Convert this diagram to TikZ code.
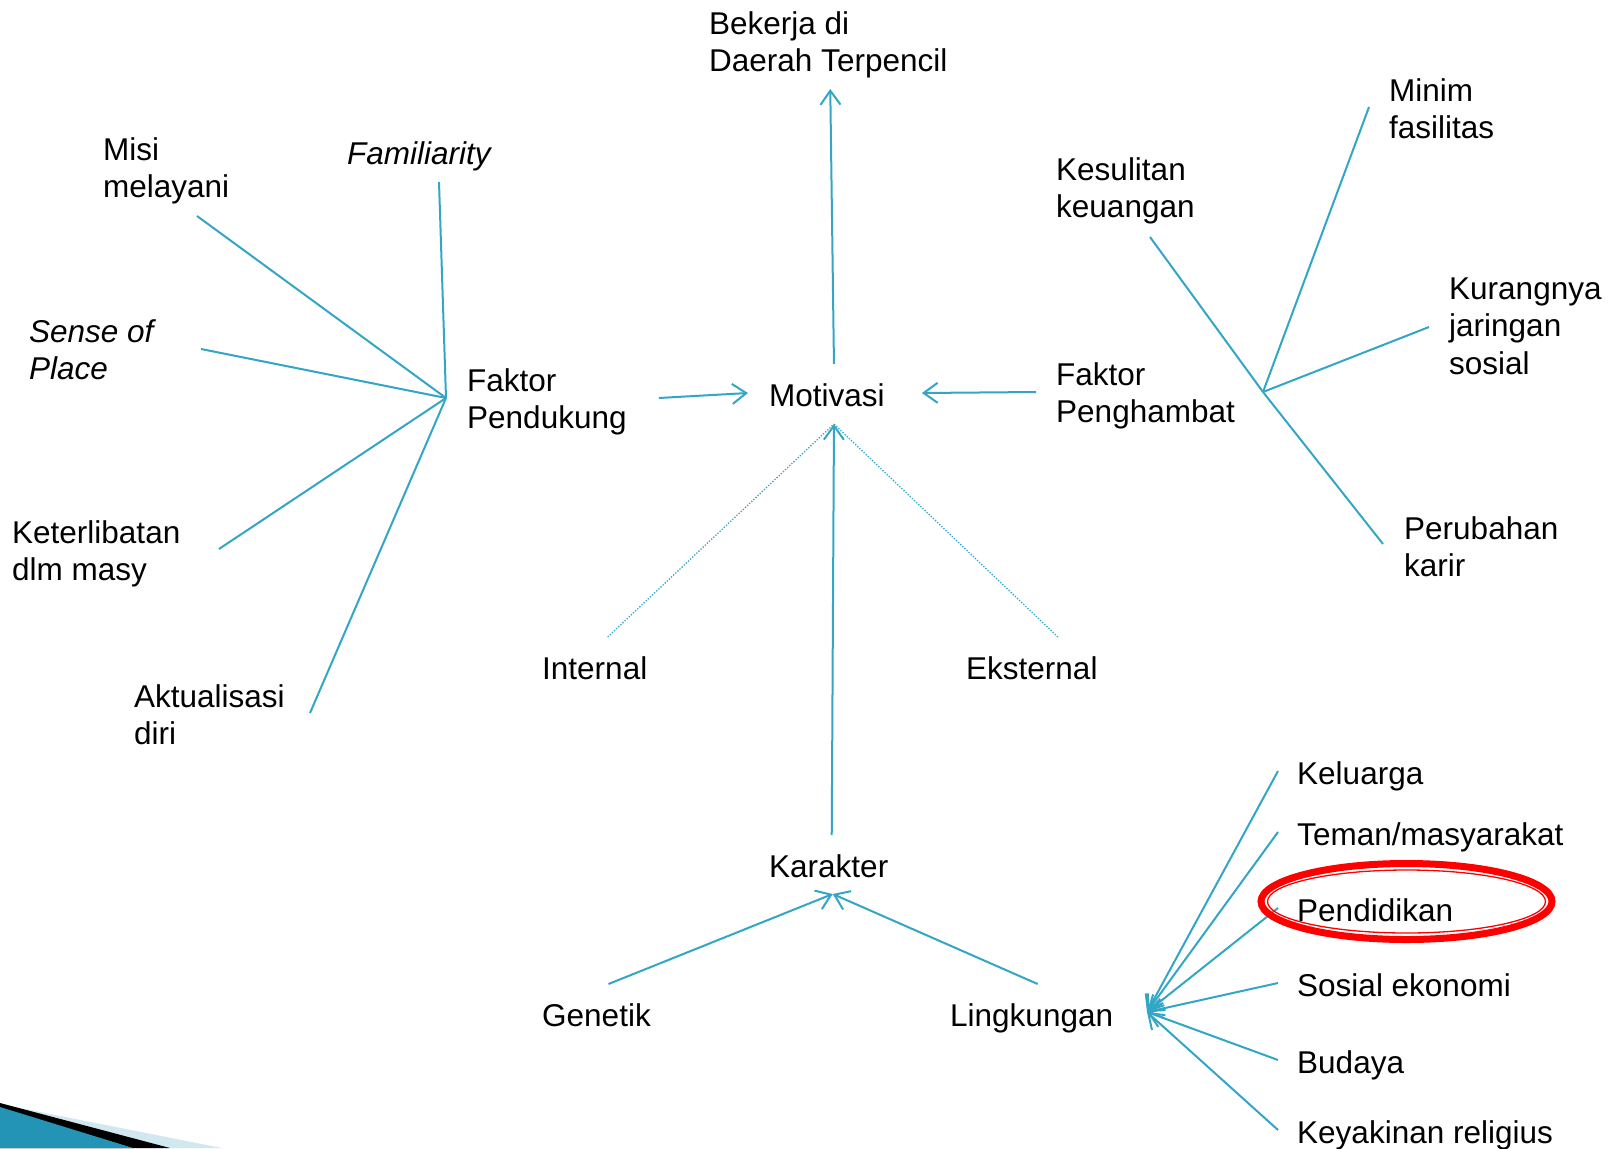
\documentclass[tikz,border=0pt]{standalone}
\usepackage{fontspec}
\setmainfont{Liberation Sans}
\usetikzlibrary{arrows.meta}
\definecolor{linkblue}{RGB}{50,166,196}
\definecolor{cornerblue}{RGB}{36,148,182}
\definecolor{cornerpale}{RGB}{210,232,241}
\newcommand{\slidesize}{\fontsize{31.5}{37.8}\selectfont}
\tikzset{
    label text/.style={font=\slidesize, align=left, inner sep=0pt, anchor=base west},
    label italic/.style={label text, font=\slidesize\itshape},
    link/.style={linkblue, line width=2pt},
    link dots/.style={linkblue, line width=1.3pt, dash pattern=on 1.3pt off 1.6pt},
    ring thick/.style={red, line width=7pt},
    ring thin/.style={red, line width=1.3pt}
}

\begin{document}
\begin{tikzpicture}[x=1pt, y=-1pt,
    >={Straight Barb[length=14pt,width=20pt]}]
    \useasboundingbox (0,0) rectangle (1616,1148);

    % corner decoration
    \fill[cornerpale] (0,1104) -- (222,1148) -- (0,1148) -- cycle;
    \fill[black] (0,1103) -- (170,1148) -- (0,1148) -- cycle;
    \fill[cornerblue] (0,1107) -- (133,1148) -- (0,1148) -- cycle;

    % centre (base = last line)
    \node[label text] (bekerja) at (709,71.8) {Bekerja di\\Daerah Terpencil};
    \node[label text] (motivasi) at (769,406) {Motivasi};
    \node[label text] (pendukung) at (467,428.8) {Faktor\\Pendukung};
    \node[label text] (penghambat) at (1056,422.8) {Faktor\\Penghambat};
    \node[label text] (internal) at (542,679) {Internal};
    \node[label text] (eksternal) at (966,679) {Eksternal};
    \node[label text] (karakter) at (769,877) {Karakter};
    \node[label text] (genetik) at (542,1026) {Genetik};
    \node[label text] (lingkungan) at (950,1026) {Lingkungan};

    % left fan
    \node[label text] (misi) at (103,197.8) {Misi\\melayani};
    \node[label italic] (familiar) at (347,164) {Familiarity};
    \node[label italic] (sense) at (29,379.8) {Sense of\\Place};
    \node[label text] (terlibat) at (12,580.8) {Keterlibatan\\dlm masy};
    \node[label text] (aktual) at (134,744.8) {Aktualisasi\\diri};

    % right fan
    \node[label text] (minim) at (1389,138.8) {Minim\\fasilitas};
    \node[label text] (sulit) at (1056,217.8) {Kesulitan\\keuangan};
    \node[label text] (jaringan) at (1449,374.6) {Kurangnya\\jaringan\\sosial};
    \node[label text] (ubah) at (1404,576.8) {Perubahan\\karir};

    % lingkungan fan
    \node[label text] (keluarga) at (1297,784) {Keluarga};
    \node[label text] (teman) at (1297,845) {Teman/masyarakat};
    \node[label text] (didik) at (1297,921) {Pendidikan};
    \node[label text] (sosek) at (1297,996) {Sosial ekonomi};
    \node[label text] (budaya) at (1297,1073) {Budaya};
    \node[label text] (religi) at (1297,1143) {Keyakinan religius};

    \coordinate (hubL) at (446,398);
    \coordinate (hubR) at (1263,392);
    \coordinate (hubK) at (1147,1012);

    \draw[link,->] ([xshift=7,yshift=42]motivasi.base) -- ([xshift=2,yshift=-17.2]bekerja.base);
    \draw[link,->] ([xshift=32,yshift=30.8]pendukung.base east) -- ([xshift=-21,yshift=13]motivasi.base west);
    \draw[link,->] ([xshift=-20,yshift=30.8]penghambat.base west) -- ([xshift=37,yshift=13]motivasi.base east);
    \draw[link,->] ([xshift=3,yshift=42]karakter.base) -- ([xshift=7,yshift=-18]motivasi.base);
    \draw[link dots] ([xshift=13,yshift=42]internal.base) -- ([xshift=7,yshift=-18]motivasi.base);
    \draw[link dots] ([xshift=26,yshift=42]eksternal.base) -- ([xshift=7,yshift=-18]motivasi.base);
    \draw[link,->] ([xshift=12,yshift=42]genetik.base) -- ([xshift=4,yshift=-17]karakter.base);
    \draw[link,->] ([xshift=6,yshift=42]lingkungan.base) -- ([xshift=4,yshift=-17]karakter.base);

    \draw[link] (hubL) -- ([xshift=94,yshift=-18.2]misi.base west);
    \draw[link] (hubL) -- ([xshift=92,yshift=-18]familiar.base west);
    \draw[link] (hubL) -- ([xshift=172,yshift=30.8]sense.base west);
    \draw[link] (hubL) -- ([xshift=207,yshift=31.8]terlibat.base west);
    \draw[link] (hubL) -- ([xshift=176,yshift=31.8]aktual.base west);

    \draw[link] (hubR) -- ([xshift=94,yshift=-19.2]sulit.base west);
    \draw[link] (hubR) -- ([xshift=-20,yshift=31.8]minim.base west);
    \draw[link] (hubR) -- ([xshift=-20,yshift=47.6]jaringan.base west);
    \draw[link] (hubR) -- ([xshift=-21,yshift=32.8]ubah.base west);

    \foreach \n in {keluarga,teman,didik,sosek,budaya,religi}
        \draw[link,->] ([xshift=-19,yshift=13]\n.base west) -- (hubK);

    % highlight
    \draw[ring thick] (1406.5,901.5) ellipse [x radius=145.5pt, y radius=38pt];
    \draw[ring thin] (1406.5,901.5) ellipse [x radius=139pt, y radius=31.5pt];
\end{tikzpicture}
\end{document}
